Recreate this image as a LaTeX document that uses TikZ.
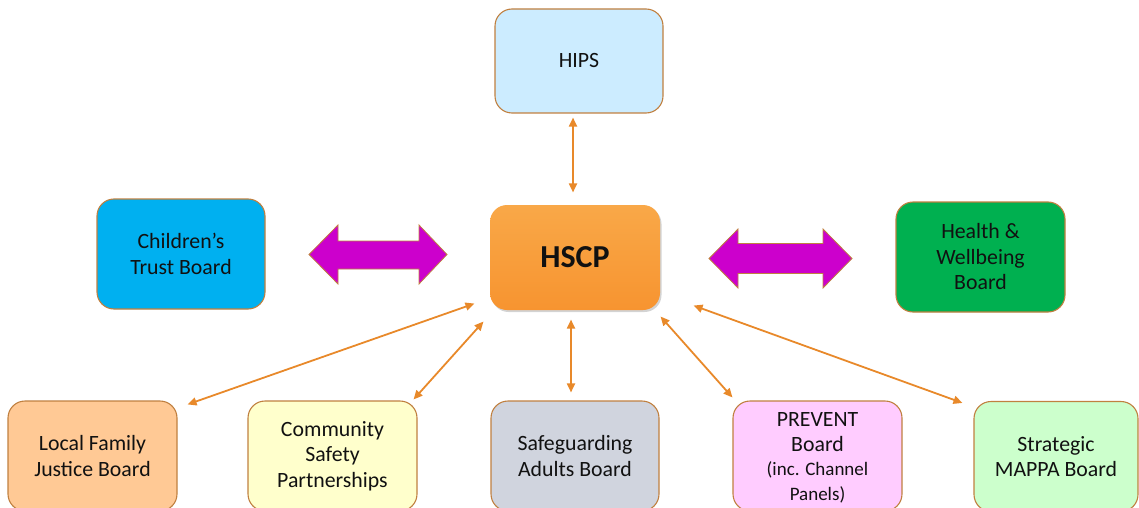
\documentclass[tikz,border=0pt]{standalone}
\usepackage{fontspec}
\setmainfont{Carlito}
\usetikzlibrary{calc,arrows.meta,shadows}
\definecolor{boxline}{HTML}{C08040}
\definecolor{txt}{HTML}{111111}
\definecolor{arr}{HTML}{E8892A}
\definecolor{mag}{HTML}{CC00CC}
\definecolor{hipsc}{HTML}{CCECFF}
\definecolor{childc}{HTML}{00B0F0}
\definecolor{healthc}{HTML}{00B050}
\definecolor{lfjbc}{HTML}{FFC995}
\definecolor{cspc}{HTML}{FFFFCC}
\definecolor{sabc}{HTML}{D0D4DE}
\definecolor{prevc}{HTML}{FFCCFF}
\definecolor{mappac}{HTML}{CCFFCC}
\definecolor{hscptop}{HTML}{F9A848}
\definecolor{hscpbot}{HTML}{F79430}
\newcommand{\smallsz}{\fontsize{19}{23}\selectfont}
\begin{document}
\begin{tikzpicture}[x=1pt,y=-1pt,
  box/.style={draw=boxline, line width=1.1pt, rounded corners=17pt, align=center,
    font=\fontsize{21.8}{25.5}\selectfont, text=txt, inner sep=0pt},
  link/.style={draw=arr, line width=1.8pt,
    {Triangle[length=9pt,width=8pt]}-{Triangle[length=9pt,width=8pt]}},
  dbl/.style={fill=mag, draw=boxline, line width=0.8pt}]
\useasboundingbox (0,0) rectangle (1139,508);
\clip (0,0) rectangle (1139,508);
% nodes
\node[box, fill=hipsc, minimum width=168pt, minimum height=104pt] (hips) at (579,61) {HIPS};
\node[box, draw=none, top color=hscptop, bottom color=hscpbot, minimum width=170pt, minimum height=105pt,
  drop shadow={shadow xshift=1.5pt, shadow yshift=-2pt, opacity=0.35, fill=black!50},
  font=\fontsize{32}{36}\selectfont\bfseries] (hscp) at (575,257.5) {HSCP};
\node[box, fill=childc, minimum width=168pt, minimum height=110pt] (child) at (181,254) {Children’s\\Trust Board};
\node[box, fill=healthc, minimum width=169pt, minimum height=110pt] (health) at (980.5,257) {Health \&\\Wellbeing\\Board};
\node[box, fill=lfjbc, minimum width=169pt, minimum height=110pt] (lfjb) at (92.5,456) {Local Family\\Justice Board};
\node[box, fill=cspc, minimum width=169pt, minimum height=110pt] (csp) at (332.5,456) {Community\\Safety\\Partnerships};
\node[box, fill=sabc, minimum width=168pt, minimum height=110pt] (sab) at (575,456) {Safeguarding\\Adults Board};
\node[box, fill=prevc, minimum width=169pt, minimum height=110pt] (prev) at (817.5,456) {};
\node[align=center, text=txt, inner sep=0pt, font=\fontsize{21.8}{25.5}\selectfont] (prevtxt) at (817.5,458)
  {PREVENT\\Board\\[-2pt]\smallsz (inc. Channel\\\smallsz Panels)};
\node[box, fill=mappac, minimum width=164pt, minimum height=110pt] (mappa) at (1056,456.5) {Strategic\\MAPPA Board};
% block arrows
\draw[dbl] (309,254.5) -- (338,225) -- (338,241) -- (419,241) -- (419,225) -- (447,254.5)
  -- (419,284) -- (419,269) -- (338,269) -- (338,284) -- cycle;
\draw[dbl] (709,258.5) -- (738,229) -- (738,243.5) -- (823,243.5) -- (823,229) -- (852,258.5)
  -- (823,288) -- (823,273.5) -- (738,273.5) -- (738,288) -- cycle;
% connectors
\draw[link] ($(hips.south)+(-6,4)$) -- ($(hscp.north)+(-2,-12)$);
\draw[link] ($(hscp.south west)+(-15,-7)$) -- ($(lfjb.north east)+(10,4)$);
\draw[link] ($(hscp.south west)+(-6,11)$) -- ($(csp.north east)+(-4,-1)$);
\draw[link] ($(hscp.south)+(-4,9)$) -- ($(sab.north)+(-4,-8)$);
\draw[link] ($(hscp.south east)+(0,6)$) -- ($(prev.north west)+(0,-3)$);
\draw[link] ($(hscp.south east)+(33,-5)$) -- ($(mappa.north west)+(-11,2)$);
\end{tikzpicture}
\end{document}
